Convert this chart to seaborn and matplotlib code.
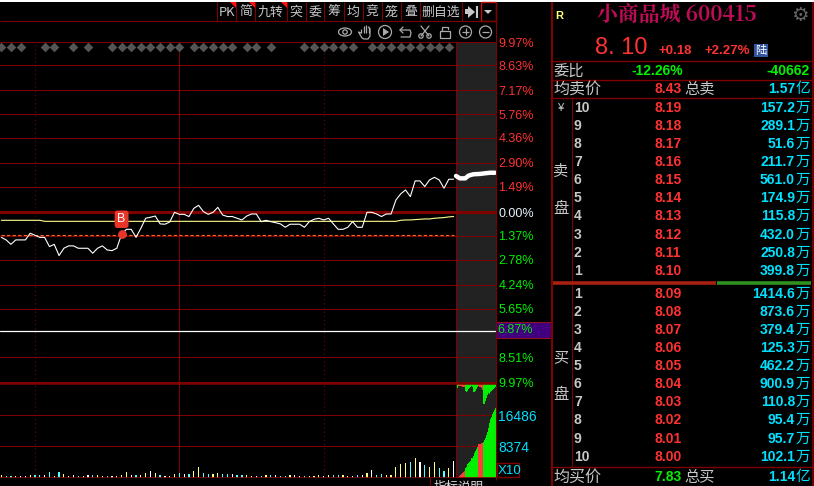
import numpy as np
import pandas as pd
import seaborn as sns
import matplotlib.pyplot as plt
from matplotlib.patches import Rectangle, Circle, Ellipse, Polygon

# intraday percent change, one point per bar
price = [-1.47, -1.62, -1.88, -1.62, -1.62, -1.62, -1.23, -1.35, -1.47, -1.47,
         -2.01, -1.88, -2.54, -2.11, -1.97, -1.97, -2.11, -2.11, -2.11, -2.40,
         -2.11, -1.97, -2.21, -2.25, -2.11, -1.29, -1.00, -1.00, -1.47, -0.94,
         -0.35, -0.29, -0.22, -0.68, -0.70, -0.57, 0.00, -0.12, -0.12, -0.25,
         0.23, 0.41, 0.04, -0.12, 0.00, 0.29, -0.16, -0.25, -0.25, -0.35,
         -0.45, -0.22, -0.10, -0.10, -0.55, -0.47, -0.55, -0.61,
         -0.68, -0.88, -0.70, -0.70, -0.70, -0.88, -0.55, -0.41, -0.35, -0.45,
         -0.35, -0.68, -1.00, -1.00, -0.88, -0.55, -0.88, -0.88, 0.00, 0.00,
         -0.10, -0.25, -0.10, -0.10, 0.72, 1.08, 1.31, 0.92, 1.84, 1.84,
         1.51, 1.90, 2.05, 1.90, 1.41, 1.94, 1.94]
avg_price = [-0.47, -0.47, -0.47, -0.47, -0.47, -0.47, -0.47, -0.47, -0.47, -0.53,
             -0.53, -0.53, -0.53, -0.53, -0.53, -0.53, -0.53, -0.53, -0.53, -0.53,
             -0.53, -0.53, -0.53, -0.53, -0.53, -0.53, -0.53, -0.53, -0.53, -0.53,
             -0.53, -0.53, -0.53, -0.53, -0.53, -0.53, -0.53, -0.53, -0.53, -0.53,
             -0.53, -0.53, -0.53, -0.53, -0.53, -0.53, -0.53, -0.53, -0.53, -0.53,
             -0.53, -0.53, -0.53, -0.53, -0.53, -0.53, -0.53, -0.53, -0.53, -0.53,
             -0.53, -0.53, -0.53, -0.53, -0.53, -0.53, -0.53, -0.53, -0.53, -0.53,
             -0.53, -0.53, -0.53, -0.53, -0.53, -0.53, -0.53, -0.53, -0.53, -0.53,
             -0.53, -0.53, -0.53, -0.47, -0.45, -0.45, -0.43, -0.41, -0.39, -0.39,
             -0.35, -0.33, -0.31, -0.27, -0.25]
volume = [870, 610, 610, 610, 610, 610, 870, 870, 870, 870,
          1650, 610, 1650, 1130, 610, 870, 610, 610, 870, 870,
          870, 610, 610, 610, 610, 870, 1650, 870, 870, 870,
          1390, 1910, 1390, 870, 610, 610, 1130, 1390, 1130, 1130,
          1910, 2960, 1390, 1130, 1130, 1390, 1130, 1130, 1130, 870,
          870, 870, 610, 610, 610, 870, 870, 870,
          520, 520, 780, 780, 520, 520, 520, 520, 780, 520,
          780, 780, 780, 780, 520, 520, 780, 780, 1300, 2090,
          780, 1040, 780, 780, 2870, 3650, 3920, 4180, 5220, 4180,
          3390, 2870, 4180, 2610, 1820, 2610, 4440]
vol_kind = list("yccywwyccwcycyywcwwcyycwyyywcyywycwyycwcyyccyyccwccyywcycw"
                "ccywwcyyywyccyywcwywccyyyyycywcyyccyw")
diamond_idx = [0, 2, 4, 9, 11, 15, 18, 23, 25, 27, 29, 31, 33, 35, 37, 40, 42, 44, 46, 48,
               51, 53, 56, 63, 65, 67, 69, 71, 73, 77, 79, 81, 83, 85, 87, 89, 91, 93]
post_idx = [94.5, 95.3, 96.4, 97.1, 98.1, 99.5, 100.6, 101.6, 102.6]
post_price = [2.13, 1.99, 1.99, 2.15, 2.23, 2.25, 2.29, 2.32, 2.32]
post_cum = [261, 435, 696, 870, 1131, 1479, 1740, 1914, 2610, 3045, 3654, 3915, 4350,
            4524, 5220, 5394, 5916, 6525, 7134, 7656, 8265, 8874, 9048, 9048, 9135, 9135,
            9570, 10005, 10440, 11310, 12180, 13224, 14355, 15486, 16095, 16704, 17400,
            17835, 18444]
post_flow = [1044, 348, 348, 435, 522, 609, 609, 609, 1740, 2088, 1740, 1218, 870, 609,
             348, 609, 2088, 1914, 1740, 1218, 609, 348, 609, 609, 1044, 1479, 5220, 5220,
             4350, 3654, 2784, 2349, 2610, 1914, 1740, 1479, 1218, 870, 609]
post_side = ["r"] * 8 + ["g"] * 13 + ["r"] * 5 + ["g"] * 13
post_flow_side = ["g"] * 2 + ["r"] * 6 + ["g"] * 13 + ["r"] * 5 + ["g"] * 13

pct_ticks = [9.97, 8.63, 7.17, 5.76, 4.36, 2.90, 1.49, 0.0, -1.37, -2.78, -4.24, -5.65, -8.51, -9.97]
vol_ticks = [8374, 16486]

toolbar = ["PK", "简", "九转", "突", "委", "筹", "均", "竞", "笼", "叠", "删自选"]
sell_prices = ["8.19", "8.18", "8.17", "8.16", "8.15", "8.14", "8.13", "8.12", "8.11", "8.10"]
sell_vols = ["157.2", "289.1", "51.6", "211.7", "561.0", "174.9", "115.8", "432.0", "250.8", "399.8"]
buy_prices = ["8.09", "8.08", "8.07", "8.06", "8.05", "8.04", "8.03", "8.02", "8.01", "8.00"]
buy_vols = ["1414.6", "873.6", "379.4", "125.3", "462.2", "900.9", "110.8", "95.4", "95.7", "102.1"]

RED = "#ff3232"
GREEN = "#00f000"
CYAN = "#00e0ff"
GRID = "#800000"
GREY = "#c8c8c8"
W, H = 814, 486
CJK = ["Noto Sans CJK SC", "DejaVu Sans"]
NUM = ["Liberation Sans", "DejaVu Sans"]

sns.set_theme(style="dark", rc={"figure.facecolor": "black", "axes.facecolor": "black",
                                "savefig.facecolor": "black"})
plt.rcParams["font.family"] = NUM

fig = plt.figure(figsize=(W / 100, H / 100), dpi=100)


def px_axes(x0, y0, x1, y1):
    return fig.add_axes([x0 / W, 1 - y1 / H, (x1 - x0) / W, (y1 - y0) / H])


# ---- price panel
XLIM = (-0.27, 102.7)
ax = px_axes(0, 42.3, 495.5, 383.3)
ax.set_xlim(*XLIM)
ax.set_ylim(-10.03, 9.97)
idx = np.arange(len(price))
ax.axvspan(94.5, XLIM[1], color="#222222", lw=0, zorder=0)
for t in pct_ticks:
    ax.axhline(t, color=GRID, lw=2.2 if t == 0 else 0.75, zorder=1)
ax.axvline(37, color=GRID, lw=0.75, zorder=1)
for v in (7, 67):
    ax.axvline(v, color=GRID, lw=0.75, ls=(0, (1, 3)), zorder=1)
ax.axvline(94.5, color=GRID, lw=0.75, zorder=1)
ax.plot([0, 94], [-1.31, -1.31], color="#ff6a1a", lw=0.8, ls=(0, (3, 2)), zorder=2)
sns.lineplot(x=idx, y=avg_price, color="#ffff90", lw=0.8, ax=ax, zorder=3)
sns.lineplot(x=idx, y=price, color="white", lw=0.8, ax=ax, zorder=4)
sns.lineplot(x=post_idx, y=post_price, color="white", lw=3.2, ax=ax, zorder=4)
sns.scatterplot(x=diamond_idx, y=[9.72] * len(diamond_idx), marker="D", s=24, color="#555555",
                linewidth=0, ax=ax, zorder=3)
ax.scatter([25], [price[25]], s=28, color="#e8352a", zorder=5)
ax.annotate("B", xy=(25, price[25]), xytext=(25, -0.41), ha="center", va="center", color="white",
            fontsize=9, zorder=6, family=NUM,
            bbox=dict(boxstyle="round,pad=0.22", fc="#e8352a", ec="none"))
ax.set_xticks([])
ax.set_yticks(pct_ticks)
ax.set_yticklabels([f"{abs(t):.2f}%" for t in pct_ticks], fontsize=9)
ax.yaxis.tick_right()
ax.tick_params(axis="y", length=0, pad=2)
for lab, t in zip(ax.get_yticklabels(), pct_ticks):
    lab.set_color(RED if t > 0 else ("#e8f4ff" if t == 0 else GREEN))
ax.set(xlabel="", ylabel="")
ax.axhline(-6.96, color="white", lw=0.9, zorder=4)
for s in ax.spines.values():
    s.set_visible(False)

# ---- volume panel
ax_v = px_axes(0, 383.3, 495.5, 478.3)
ax_v.patch.set_alpha(0)
vol_df = pd.DataFrame({"i": idx, "v": volume, "k": vol_kind})
sns.barplot(data=vol_df, x="i", y="v", hue="k", native_scale=True, dodge=False, width=0.25,
            palette={"y": "#ffff80", "c": "#50ffff", "w": "#ffffff"}, saturation=1, linewidth=0,
            legend=False, ax=ax_v, zorder=3, antialiased=False)
ax_v.set_xlim(*XLIM)
ax_v.set_ylim(0, 24860)
ax_v.axvspan(94.5, XLIM[1], color="#222222", lw=0, zorder=0)
for t in vol_ticks:
    ax_v.axhline(t, color=GRID, lw=0.75, zorder=1)
ax_v.axvline(37, color=GRID, lw=0.75, zorder=1)
for v in (7, 67):
    ax_v.axvline(v, color=GRID, lw=0.75, ls=(0, (1, 3)), zorder=1)
ax_v.axvline(94.5, color=GRID, lw=0.75, zorder=1)
post_x = 94.74 + np.arange(len(post_cum)) * 0.2079
side_col = {"r": "#ff3c3c", "g": "#00f000"}
ax_v.bar(post_x, post_cum, width=0.2079, color=[side_col[s] for s in post_side], lw=0, zorder=3,
         antialiased=False)
ax_v.bar(post_x, [-f for f in post_flow], bottom=24600, width=0.2079,
         color=[side_col[s] for s in post_flow_side], lw=0, zorder=3, antialiased=False)
ax_v.set_xticks([])
ax_v.set_yticks(vol_ticks)
ax_v.set_yticklabels([str(t) for t in vol_ticks], fontsize=10, color=CYAN)
ax_v.yaxis.tick_right()
ax_v.tick_params(axis="y", length=0, pad=2)
ax_v.set(xlabel="", ylabel="")
for s in ax_v.spines.values():
    s.set_visible(False)
ax_v.axhline(0, color=GRID, lw=1.2, zorder=4)
ax_v.axhline(24860, color=GRID, lw=1.8, zorder=4)

# ---- everything around the charts, in pixel coordinates
ov = fig.add_axes([0, 0, 1, 1], zorder=10)
ov.set_xlim(0, W)
ov.set_ylim(H, 0)
ov.axis("off")
ov.patch.set_alpha(0)


def txt(x, y, s, color=GREY, size=10, ha="left", fam=NUM, weight="normal"):
    ov.text(x, y, s, color=color, fontsize=size, ha=ha, va="center", family=fam, fontweight=weight)


def hline(y, x0, x1, color=GRID, lw=0.75):
    ov.plot([x0, x1], [y, y], color=color, lw=lw, solid_capstyle="butt")


def vline(x, y0, y1, color=GRID, lw=0.75):
    ov.plot([x, x], [y0, y1], color=color, lw=lw, solid_capstyle="butt")


ov.add_patch(Rectangle((0, 0), W, 2, fc="white", ec="none"))
hline(21.3, 0, 495.5)
vline(495.5, 2, 480)
vline(551.5, 2, H, lw=1.5)
vline(813, 2, H, lw=1.2)

# toolbar
edges = [217, 236, 255, 286.7, 305.7, 324.3, 344, 362.7, 381.7, 400.7, 419.7, 461.7]
for i, lab in enumerate(toolbar):
    txt((edges[i] + edges[i + 1]) / 2, 12, lab, size=9.3, ha="center", fam=CJK)
for e in edges:
    vline(e, 2, 21)
for e in edges[1:4]:
    ov.add_patch(Polygon([[e - 6, 2], [e, 2], [e, 8]], fc="#ff1010", ec="none"))
ov.add_patch(Polygon([[468, 6], [475, 12], [468, 18]], fc=GREY, ec="none"))
ov.add_patch(Rectangle((465, 9.5), 4, 5, fc=GREY, ec="none"))
vline(477, 6, 18, color=GREY, lw=1.5)
ov.add_patch(Rectangle((480.7, 2), 14.8, 19, fc="none", ec="#c01010", lw=1.0))
ov.add_patch(Polygon([[484, 10], [492, 10], [488, 14]], fc=GREY, ec="none"))

# little tool icons
ICON = "#aaaaaa"
ov.add_patch(Ellipse((345, 32), 13, 8, fc="none", ec=ICON, lw=0.9))
ov.add_patch(Circle((345, 32), 2.2, fc="none", ec=ICON, lw=0.9))
for fx, ftop in ((361, 29), (363.5, 26), (366, 25.5), (368.5, 27)):
    vline(fx, ftop, 33, color=ICON, lw=0.9)
ov.plot([361, 358.5, 362, 364, 368, 370, 370, 368.5], [33, 32, 38, 39, 39, 36, 29, 27], color=ICON, lw=0.9)
ov.add_patch(Circle((385, 32), 6.5, fc="none", ec=ICON, lw=0.9))
ov.add_patch(Polygon([[383, 28], [389, 32], [383, 36]], fc=ICON, ec="none"))
ov.plot([400, 410, 411, 410, 401], [30, 30, 33, 37, 37], color=ICON, lw=0.9)
ov.plot([403, 400, 403], [27, 30, 33], color=ICON, lw=0.9)
ov.plot([421, 429], [26, 36], color=ICON, lw=0.9)
ov.plot([429, 421], [26, 36], color=ICON, lw=0.9)
ov.add_patch(Circle((421, 36), 2.2, fc="black", ec=ICON, lw=0.9))
ov.add_patch(Circle((429, 36), 2.2, fc="black", ec=ICON, lw=0.9))
ov.add_patch(Rectangle((440, 31), 10, 7, fc="none", ec=ICON, lw=0.9))
ov.plot([442, 442, 448, 448], [31, 27, 27, 29], color=ICON, lw=0.9)
for cx in (465.5, 485.5):
    ov.add_patch(Circle((cx, 32), 6, fc="none", ec=ICON, lw=0.9))
    hline(32, cx - 3.5, cx + 3.5, color=ICON, lw=0.9)
vline(465.5, 28.5, 35.5, color=ICON, lw=0.9)

# crosshair tag and the other right-hand labels
ov.add_patch(Rectangle((496, 321.7), 55, 16.3, fc="#400080", ec="#901020", lw=0.8))
txt(497.5, 330, "6.87%", color=GREEN, size=9)
ov.add_patch(Rectangle((496.5, 463), 22, 14, fc="none", ec="#800000", lw=1.0))
txt(497.5, 470.5, "X10", color=CYAN, size=9.5)
vline(429.5, 478, H)
txt(459, 487.5, "指标说明", size=9, ha="center", fam=CJK, color="#dddddd")

# quote panel
txt(559, 16, "R", color="#ffff70", size=8, ha="center", weight="bold")
txt(677, 15, "小商品城 600415", color="#c00c58", size=15, ha="center",
    fam=["Noto Serif CJK SC"] + CJK, weight="bold")
txt(800, 15.5, "⚙", color="#666666", size=14, ha="center", fam=["DejaVu Sans"])
txt(621, 48, "8. 10", color=RED, size=17, ha="center")
txt(675, 51, "+0.18", color=RED, size=9.5, ha="center", weight="bold")
txt(727, 51, "+2.27%", color=RED, size=9.5, ha="center", weight="bold")
ov.add_patch(Rectangle((754, 44), 14, 13, fc="#3355a0", ec="none"))
txt(761, 50.5, "陆", color="white", size=8.2, ha="center", fam=CJK)

for y in (61, 80, 98, 467):
    hline(y, 552, 813, lw=1.0)
vline(571.5, 98, 467)
txt(553, 71, "委比", size=11, fam=CJK)
txt(657, 71, "-12.26%", color=GREEN, ha="center", weight="bold")
txt(810, 71, "-40662", color=GREEN, ha="right", weight="bold")
txt(553, 89, "均卖价", size=11.5, fam=CJK)
txt(682, 89, "8.43", color=RED, ha="right", weight="bold")
txt(684, 89, "总卖", size=11, fam=CJK)
txt(795, 89, "1.57", color=CYAN, ha="right", weight="bold")
txt(796, 89, "亿", color=CYAN, size=10.5, fam=CJK)
txt(561, 108, "¥", size=8, ha="center")
txt(561, 171, "卖", size=11, ha="center", fam=CJK)
txt(561, 208, "盘", size=11, ha="center", fam=CJK)
txt(561, 358, "买", size=11, ha="center", fam=CJK)
txt(561, 394, "盘", size=11, ha="center", fam=CJK)

sell_y = [108, 126, 144, 162, 180, 198, 216, 235, 253, 271]
buy_y = [294, 312, 330, 348, 366, 384, 402, 420, 438.7, 456.7]
for i, y in enumerate(sell_y):
    txt(574, y, str(10 - i), weight="bold")
    txt(668, y, sell_prices[i], color=RED, ha="center", weight="bold")
    txt(795, y, sell_vols[i], color=CYAN, ha="right", weight="bold")
    txt(796, y, "万", color=CYAN, size=10.5, fam=CJK)
for i, y in enumerate(buy_y):
    txt(574, y, str(i + 1), weight="bold")
    txt(668, y, buy_prices[i], color=RED, ha="center", weight="bold")
    txt(795, y, buy_vols[i], color=CYAN, ha="right", weight="bold")
    txt(796, y, "万", color=CYAN, size=10.5, fam=CJK)
hline(283, 553, 716, color="#a82010", lw=2.6)
hline(283, 717, 811, color="#309020", lw=2.6)
txt(553, 477, "均买价", size=11.5, fam=CJK)
txt(682, 477, "7.83", color=GREEN, ha="right", weight="bold")
txt(684, 477, "总买", size=11, fam=CJK)
txt(795, 477, "1.14", color=CYAN, ha="right", weight="bold")
txt(796, 477, "亿", color=CYAN, size=10.5, fam=CJK)

fig.savefig("out.png", dpi=100)
